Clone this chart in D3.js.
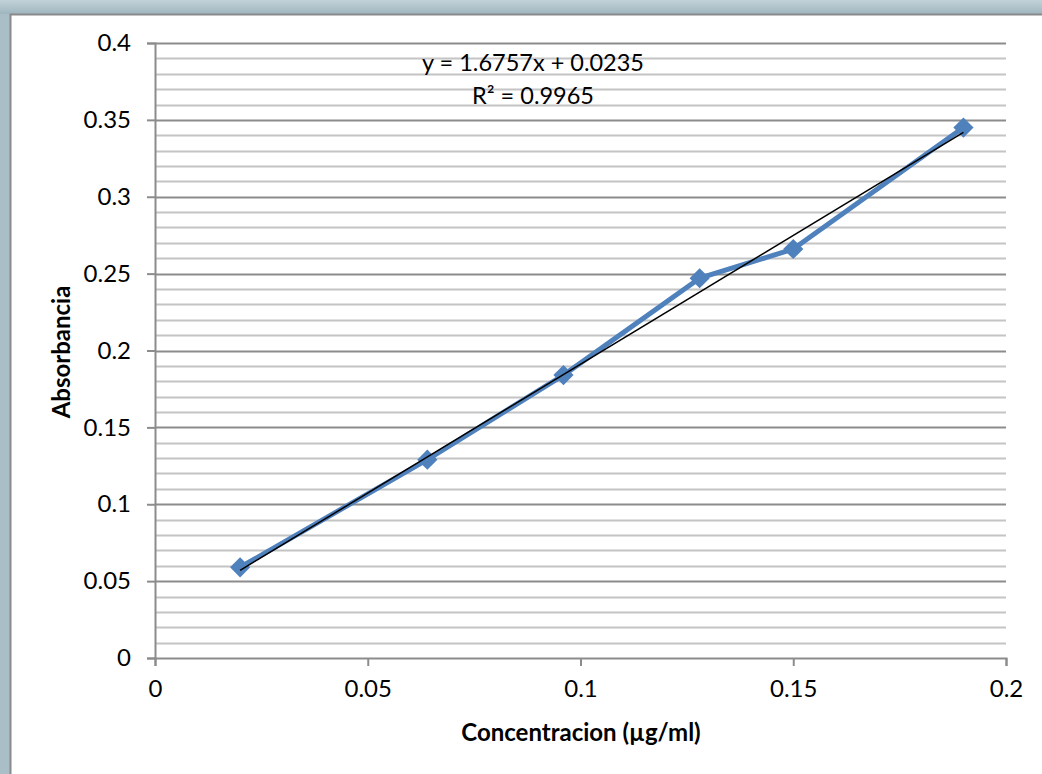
<!DOCTYPE html>
<html>
<head>
<meta charset="utf-8">
<script src="https://cdn.jsdelivr.net/npm/d3@7"></script>
<style>
  html, body { margin: 0; padding: 0; background: #fff; }
  svg { display: block; font-family: Lato, "Open Sans", sans-serif; }
</style>
</head>
<body>
<svg id="chart" width="1042" height="774"></svg>
<script>
// data
const concentracion = [0.02, 0.064, 0.096, 0.128, 0.15, 0.19];
const absorbancia = [0.059, 0.129, 0.184, 0.247, 0.266, 0.345];
const xTicks = [0, 0.05, 0.1, 0.15, 0.2];
const yTicks = [0, 0.05, 0.1, 0.15, 0.2, 0.25, 0.3, 0.35, 0.4];
const trendSlope = 1.6757;
const trendIntercept = 0.0235;
const trendLabels = ["y = 1.6757x + 0.0235", "R² = 0.9965"];

const svg = d3.select("#chart");

// frame ----------
const grad = svg.append("defs").append("linearGradient")
    .attr("id", "frameGrad").attr("x1", 0).attr("y1", 0).attr("x2", 0).attr("y2", 1);
grad.append("stop").attr("offset", 0).attr("stop-color", "#c3d2d8");
grad.append("stop").attr("offset", 1).attr("stop-color", "#9fb6bf");

svg.append("rect").attr("x", 0).attr("y", 0).attr("width", 1042).attr("height", 774)
    .style("fill", "#a9bec6");
svg.append("rect").attr("x", 0).attr("y", 0).attr("width", 1042).attr("height", 14)
    .style("fill", "url(#frameGrad)");
svg.append("rect").attr("x", 10).attr("y", 14).attr("width", 1032).attr("height", 760)
    .style("fill", "#fff");
svg.append("path").attr("d", "M10.5,774 V14.5 H1042")
    .style("fill", "none").style("stroke", "#8a8a8a").style("stroke-width", 2);

// scales ----------
const x = d3.scaleLinear().domain([0, 0.2]).range([155, 1006]);
const y = d3.scaleLinear().domain([0, 0.4]).range([658, 43]);

// gridlines: minor every 0.01, major every 0.05
const minor = d3.range(1, 40).map(i => i / 100).filter(v => Math.round(v * 100) % 5 !== 0);
svg.append("g").selectAll("line").data(minor).enter().append("line")
    .attr("x1", x(0)).attr("x2", x(0.2))
    .attr("y1", d => Math.round(y(d)) + 0.5).attr("y2", d => Math.round(y(d)) + 0.5)
    .style("stroke", "#c4c4c4").style("stroke-width", 2);
svg.append("g").selectAll("line").data(yTicks.slice(1)).enter().append("line")
    .attr("x1", x(0)).attr("x2", x(0.2))
    .attr("y1", d => Math.round(y(d)) + 0.5).attr("y2", d => Math.round(y(d)) + 0.5)
    .style("stroke", "#8c8c8c").style("stroke-width", 2);

// axes ----------
const yAxis = svg.append("g").attr("transform", `translate(${x(0)},0)`)
    .call(d3.axisLeft(y).tickValues(yTicks).tickSize(8).tickPadding(16)
        .tickFormat(d => d3.format("")(+d.toFixed(2))));
const xAxis = svg.append("g").attr("transform", `translate(0,${y(0)})`)
    .call(d3.axisBottom(x).tickValues(xTicks).tickSize(8).tickPadding(14)
        .tickFormat(d => d3.format("")(+d.toFixed(2))));
[yAxis, xAxis].forEach(a => {
    a.selectAll("path, line").style("stroke", "#8c8c8c").style("stroke-width", 2);
    a.selectAll("text").style("font-family", "Lato, sans-serif")
        .style("font-size", "24px").style("fill", "#000");
});

// axis titles
svg.append("text").attr("x", 581).attr("y", 741).attr("text-anchor", "middle")
    .style("font-size", "24px").style("font-weight", "bold").text("Concentracion (µg/ml)");
svg.append("text").attr("transform", "translate(70,352) rotate(-90)").attr("text-anchor", "middle")
    .style("font-size", "24px").style("font-weight", "bold").text("Absorbancia");

// series ----------
const pts = concentracion.map((c, i) => ({ c: c, a: absorbancia[i] }));
svg.append("path").datum(pts)
    .attr("d", d3.line().x(d => x(d.c)).y(d => y(d.a)))
    .style("fill", "none").style("stroke", "#4f81bd").style("stroke-width", 5)
    .style("stroke-linejoin", "round");
svg.append("g").selectAll("path").data(pts).enter().append("path")
    .attr("transform", d => `translate(${x(d.c)},${y(d.a)})`)
    .attr("d", d3.symbol().type(d3.symbolDiamond2).size(260))
    .style("fill", "#4f81bd");

// trendline ----------
const tx = [concentracion[0], concentracion[concentracion.length - 1]];
svg.append("line")
    .attr("x1", x(tx[0])).attr("y1", y(trendSlope * tx[0] + trendIntercept))
    .attr("x2", x(tx[1])).attr("y2", y(trendSlope * tx[1] + trendIntercept))
    .style("stroke", "#000").style("stroke-width", 1.5);

svg.append("g").selectAll("text").data(trendLabels).enter().append("text")
    .attr("x", 533).attr("y", (d, i) => 71 + i * 33).attr("text-anchor", "middle")
    .style("font-size", "23.5px").text(d => d);
</script>
</body>
</html>
